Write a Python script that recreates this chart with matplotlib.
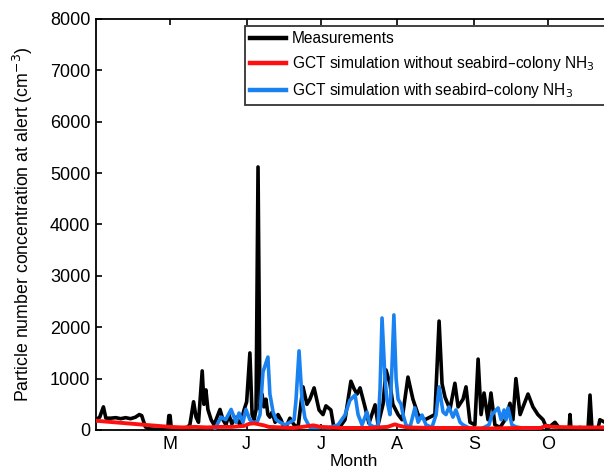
"""
Particle number concentration at Alert: measurements vs GCT simulations
(with and without seabird-colony NH3), April to October.
"""

import numpy as np
import matplotlib.pyplot as plt

# =====================================================================
# DATA  (x = days since 1 April)
# =====================================================================
MONTH_DAYS = [30, 61, 91, 122, 153, 183]
MONTH_LABELS = ["M", "J", "J", "A", "S", "O"]
Y_TICKS = [0, 1000, 2000, 3000, 4000, 5000, 6000, 7000, 8000]

meas_days = [0, 1.5, 3, 4, 6, 8, 10, 12, 14, 16, 17.5, 18.5, 20, 22, 26, 29,
             29.5, 30, 30.5, 36, 38, 39.5, 40.5, 41.5, 43, 43.7, 44.5, 45.3,
             46.6, 47.8, 49, 50.2, 51.4, 52.6, 53.8, 55, 56.7, 58.3, 60, 61,
             62.3, 63.2, 64, 64.8, 65.6, 66.4, 67.2, 68, 68.8, 69.6, 70.4,
             71.3, 72.5, 73.7, 74.9, 76.1, 77.3, 78.5, 80.2, 81.8, 83.8, 85.4,
             86.6, 88.3, 90.3, 91.9, 93.1, 95.1, 96.4, 98, 100.8, 103.2, 104.5,
             105.7, 106.9, 108.9, 110.5, 113, 114.2, 116.2, 117.4, 119, 120.2,
             122.3, 123.9, 126.3, 128.3, 130.4, 133.2, 135.2, 137.2, 138.9,
             140.1, 141.3, 143.3, 145.3, 146.6, 148.6, 149.8, 151.4, 153.4,
             154.7, 155.9, 157.1, 158.7, 159.9, 161.5, 163.6, 165.6, 167.6,
             168.8, 170, 171.7, 173.3, 174.9, 176.9, 178.9, 181, 182.6, 185.8,
             187.9, 191.5, 191.9, 192.3, 196, 199.2, 200, 200.8, 203.2, 204,
             206]
meas_vals = [200, 250, 450, 230, 230, 240, 220, 240, 220, 250, 300, 280, 60,
             20, 10, 10, 280, 280, 10, 10, 100, 550, 250, 150, 1150, 500, 780,
             400, 200, 100, 250, 400, 200, 100, 300, 120, 250, 100, 400, 550,
             1500, 300, 200, 400, 5120, 400, 700, 450, 600, 300, 250, 350, 150,
             300, 200, 50, 100, 230, 100, 50, 840, 500, 600, 820, 390, 300, 470,
             390, 20, 10, 200, 950, 800, 700, 820, 450, 130, 490, 100, 500,
             1170, 900, 500, 300, 200, 1030, 600, 300, 200, 250, 300, 2120, 900,
             640, 400, 910, 450, 600, 840, 150, 100, 1380, 300, 720, 200, 720,
             100, 50, 200, 520, 200, 1000, 300, 500, 700, 450, 300, 200, 20,
             150, 20, 20, 300, 20, 50, 20, 680, 20, 20, 200, 150]

no_nh3_days = [0, 5, 10, 15, 19.8, 25, 30, 35, 40, 45, 50, 55, 60, 62, 64, 66,
               68, 70, 75, 80, 85, 88, 91, 95, 100, 110, 118, 121, 123, 126,
               135, 150, 160, 170, 180, 182, 185, 195, 206]
no_nh3_vals = [180, 160, 140, 120, 100, 80, 60, 50, 60, 50, 60, 60, 80, 120,
               130, 110, 90, 60, 50, 40, 70, 90, 60, 50, 40, 40, 60, 110, 80,
               50, 40, 40, 30, 40, 40, 80, 60, 50, 50]

nh3_days = [48.2, 49, 50.6, 52.5, 54.7, 56.7, 57.9, 59.5, 60.7, 62.3, 63.6,
            65.2, 66.4, 67.6, 69.6, 70.4, 71.7, 72.9, 74.5, 76.5, 78.5, 80.2,
            81, 82.2, 83.4, 84.6, 86.6, 90.7, 94.7, 98, 100.8, 102.8, 104.9,
            106.1, 107.7, 109.7, 110.9, 113, 114.2, 115, 115.8, 117, 117.8,
            119, 119.8, 120.6, 121.5, 122.3, 123.5, 124.3, 125.5, 127.1, 129.1,
            130.4, 132, 133.6, 136, 137.7, 138.9, 140.5, 141.7, 142.9, 144.5,
            145.7, 147.4, 148.6, 151.4, 155.5, 159.1, 160.3, 162.8, 164, 165.2,
            166, 166.8, 168.4, 170, 173.7, 177.7]
nh3_vals = [30, 100, 250, 200, 400, 150, 330, 150, 400, 200, 150, 150, 300,
            1130, 1420, 700, 350, 200, 150, 100, 150, 200, 600, 1540, 600, 230,
            50, 50, 50, 100, 290, 580, 680, 300, 100, 350, 100, 50, 100, 800,
            2180, 1000, 580, 300, 1200, 2240, 1000, 600, 500, 300, 100, 50,
            430, 150, 290, 100, 50, 300, 840, 350, 300, 450, 250, 390, 150,
            100, 30, 10, 100, 300, 430, 200, 390, 200, 430, 100, 60, 30, 10]

# =====================================================================
# PLOT
# =====================================================================
plt.rcParams["font.family"] = ["Liberation Sans", "DejaVu Sans"]

fig = plt.figure(figsize=(6.04, 4.72), dpi=100)
ax = fig.add_axes([96 / 604, 1 - 430 / 472, (611 - 96) / 604, (430 - 19) / 472])

ax.plot(meas_days, meas_vals, color="black", lw=2.6, label="Measurements")
ax.plot(nh3_days, nh3_vals, color="#1a82f0", lw=2.6, zorder=3,
        label="GCT simulation with seabird\u2013colony NH$_3$")
ax.plot(no_nh3_days, no_nh3_vals, color="#ff1010", lw=2.8, zorder=4,
        label="GCT simulation without seabird\u2013colony NH$_3$")

ax.set_xlim(0, 208.5)
ax.set_ylim(0, 8000)
ax.set_xticks(MONTH_DAYS)
ax.set_xticklabels(MONTH_LABELS)
ax.set_yticks(Y_TICKS)
ax.tick_params(direction="in", top=True, right=True, length=4, width=1.2,
               labelsize=13, pad=4)
for s in ax.spines.values():
    s.set_linewidth(1.3)

ax.set_xlabel("Month", fontsize=12.5, labelpad=1)
ax.set_ylabel("Particle number concentration at alert (cm$^{-3}$)",
              fontsize=12.8, labelpad=11)

# legend order: measurements, without NH3, with NH3
# box runs from x=245 px to past the (cropped) right edge
h, l = ax.get_legend_handles_labels()
order = [0, 2, 1]
leg_x0 = (245 - 96) / 515
leg_top = (430 - 26) / 411
leg = ax.legend([h[i] for i in order], [l[i] for i in order],
                loc="upper left", mode="expand",
                bbox_to_anchor=(leg_x0, leg_top - 0.3, (608 - 245) / 515, 0.3),
                borderaxespad=0, fontsize=11.2, frameon=True, fancybox=False,
                edgecolor="black", handlelength=2.3, labelspacing=0.5,
                borderpad=0.35, handletextpad=0.35)
leg.get_frame().set_linewidth(1.3)
for line in leg.get_lines():
    line.set_linewidth(3.2)

fig.savefig("out.png", dpi=100)
